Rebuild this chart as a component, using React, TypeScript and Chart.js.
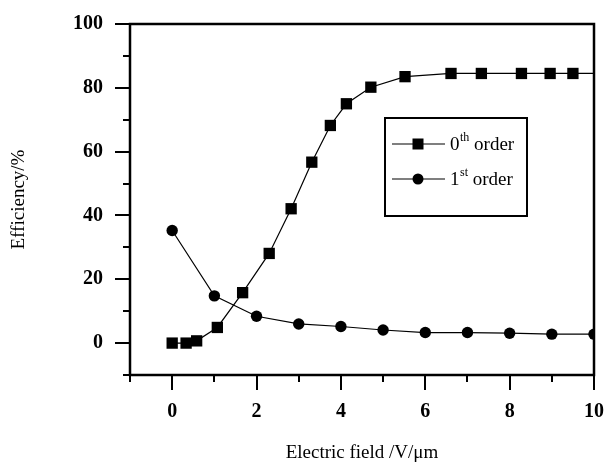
import React, { useEffect, useRef } from "react";
import { Chart, registerables } from "chart.js";

Chart.register(...registerables);

// ---- data ----
const zerothX = [0, 0.33, 0.58, 1.07, 1.67, 2.3, 2.82, 3.31, 3.75, 4.13, 4.71, 5.52, 6.61, 7.33, 8.28, 8.96, 9.5, 10.15];
const zerothY = [0, 0, 0.7, 4.9, 15.8, 28.1, 42.1, 56.7, 68.2, 75, 80.2, 83.5, 84.5, 84.5, 84.5, 84.5, 84.5, 84.5];
const firstX = [0, 1, 2, 3, 4, 5, 6, 7, 8, 9, 10];
const firstY = [35.3, 14.8, 8.4, 6.0, 5.2, 4.1, 3.3, 3.3, 3.1, 2.8, 2.8];

const xMajorTicks = [0, 2, 4, 6, 8, 10];
const xMinorTicks = [-1, 1, 3, 5, 7, 9];
const yMajorTicks = [0, 20, 40, 60, 80, 100];
const yMinorTicks = [-10, 10, 30, 50, 70, 90];

const seriesLabels = [
  { base: "0", sup: "th", rest: " order" },
  { base: "1", sup: "st", rest: " order" },
];

const SERIF = "'Liberation Serif', 'Times New Roman', serif";

const frameTicksPlugin = {
  id: "frameTicks",
  afterDraw(chart: any) {
    const { ctx, chartArea: ca, scales } = chart;
    const xs = scales.x;
    const ys = scales.y;
    ctx.save();
    ctx.strokeStyle = "#000";
    ctx.lineCap = "butt";
    // ticks
    ctx.lineWidth = 2;
    const major = 15;
    const minor = 7;
    ctx.beginPath();
    xMajorTicks.forEach((v) => {
      const px = Math.round(xs.getPixelForValue(v));
      ctx.moveTo(px, ca.bottom);
      ctx.lineTo(px, ca.bottom + major);
    });
    xMinorTicks.forEach((v) => {
      const px = Math.round(xs.getPixelForValue(v));
      ctx.moveTo(px, ca.bottom);
      ctx.lineTo(px, ca.bottom + minor);
    });
    yMajorTicks.forEach((v) => {
      const py = Math.round(ys.getPixelForValue(v));
      ctx.moveTo(ca.left, py);
      ctx.lineTo(ca.left - major, py);
    });
    yMinorTicks.forEach((v) => {
      const py = Math.round(ys.getPixelForValue(v));
      ctx.moveTo(ca.left, py);
      ctx.lineTo(ca.left - minor, py);
    });
    ctx.stroke();
    // frame
    ctx.lineWidth = 2.5;
    ctx.strokeRect(ca.left, ca.top, ca.right - ca.left, ca.bottom - ca.top);

    // legend box
    const lx = ca.left + 255;
    const ly = ca.top + 94;
    const lw = 142;
    const lh = 98;
    ctx.fillStyle = "#fff";
    ctx.fillRect(lx, ly, lw, lh);
    ctx.lineWidth = 2;
    ctx.strokeRect(lx, ly, lw, lh);

    const rows = [ly + 26, ly + 61];
    chart.data.datasets.forEach((ds: any, i: number) => {
      const y = rows[i];
      ctx.lineWidth = 1.2;
      ctx.beginPath();
      ctx.moveTo(lx + 7, y);
      ctx.lineTo(lx + 60, y);
      ctx.stroke();
      ctx.fillStyle = "#000";
      const cx = lx + 33;
      if (ds.pointStyle === "rect") {
        ctx.fillRect(cx - 5.5, y - 5.5, 11, 11);
      } else {
        ctx.beginPath();
        ctx.arc(cx, y, 5.5, 0, Math.PI * 2);
        ctx.fill();
      }
      const lab = seriesLabels[i];
      let tx = lx + 65;
      ctx.textBaseline = "middle";
      ctx.textAlign = "left";
      ctx.font = `19px ${SERIF}`;
      ctx.fillText(lab.base, tx, y + 1);
      tx += ctx.measureText(lab.base).width + 0.5;
      ctx.font = `12px ${SERIF}`;
      ctx.fillText(lab.sup, tx, y - 6);
      tx += ctx.measureText(lab.sup).width;
      ctx.font = `19px ${SERIF}`;
      ctx.fillText(lab.rest, tx, y + 1);
    });
    ctx.restore();
  },
};

export default function App() {
  const ref = useRef<HTMLCanvasElement>(null);
  useEffect(() => {
    document.body.style.margin = "0";
    document.body.style.background = "#fff";
    const canvas = ref.current;
    if (!canvas) return;
    const chart = new Chart(canvas, {
      type: "line",
      data: {
        datasets: [
          {
            label: "0th order",
            data: zerothX.map((x, i) => ({ x, y: zerothY[i] })),
            borderColor: "#000",
            backgroundColor: "#000",
            borderWidth: 1.2,
            pointStyle: "rect",
            pointRadius: 8,
            pointBorderWidth: 0,
            tension: 0,
          },
          {
            label: "1st order",
            data: firstX.map((x, i) => ({ x, y: firstY[i] })),
            borderColor: "#000",
            backgroundColor: "#000",
            borderWidth: 1.2,
            pointStyle: "circle",
            pointRadius: 5.7,
            pointBorderWidth: 0,
            tension: 0,
          },
        ],
      },
      options: {
        responsive: false,
        animation: false,
        layout: { padding: { top: 23, right: 14, left: 0, bottom: 0 } },
        plugins: { legend: { display: false }, tooltip: { enabled: false } },
        scales: {
          x: {
            type: "linear",
            min: -1,
            max: 10,
            afterBuildTicks: (s: any) => {
              s.ticks = xMajorTicks.map((v) => ({ value: v }));
            },
            afterFit: (s: any) => {
              s.height = 94;
            },
            border: { display: false },
            grid: { display: true, drawOnChartArea: false, drawTicks: true, tickLength: 15, color: "rgba(0,0,0,0)" },
            ticks: {
              color: "#000",
              padding: 10,
              maxRotation: 0,
              font: { family: SERIF, size: 20, weight: "bold" },
            },
            title: {
              display: true,
              text: "Electric field /V/μm",
              color: "#000",
              font: { family: SERIF, size: 19 },
              padding: { top: 0, bottom: 5 },
            },
          },
          y: {
            type: "linear",
            min: -10,
            max: 100,
            afterBuildTicks: (s: any) => {
              s.ticks = yMajorTicks.map((v) => ({ value: v }));
            },
            afterFit: (s: any) => {
              s.width = 130;
            },
            border: { display: false },
            grid: { display: true, drawOnChartArea: false, drawTicks: true, tickLength: 15, color: "rgba(0,0,0,0)" },
            ticks: {
              color: "#000",
              padding: 12,
              font: { family: SERIF, size: 20, weight: "bold" },
            },
            title: {
              display: true,
              text: "Efficiency/%",
              color: "#000",
              font: { family: SERIF, size: 19 },
              padding: { top: 8, bottom: 0 },
            },
          },
        },
      },
      plugins: [frameTicksPlugin],
    });
    return () => chart.destroy();
  }, []);
  return (
    <div style={{ width: 614, height: 469, background: "#fff" }}>
      <canvas ref={ref} width={614} height={469} style={{ display: "block" }} />
    </div>
  );
}
